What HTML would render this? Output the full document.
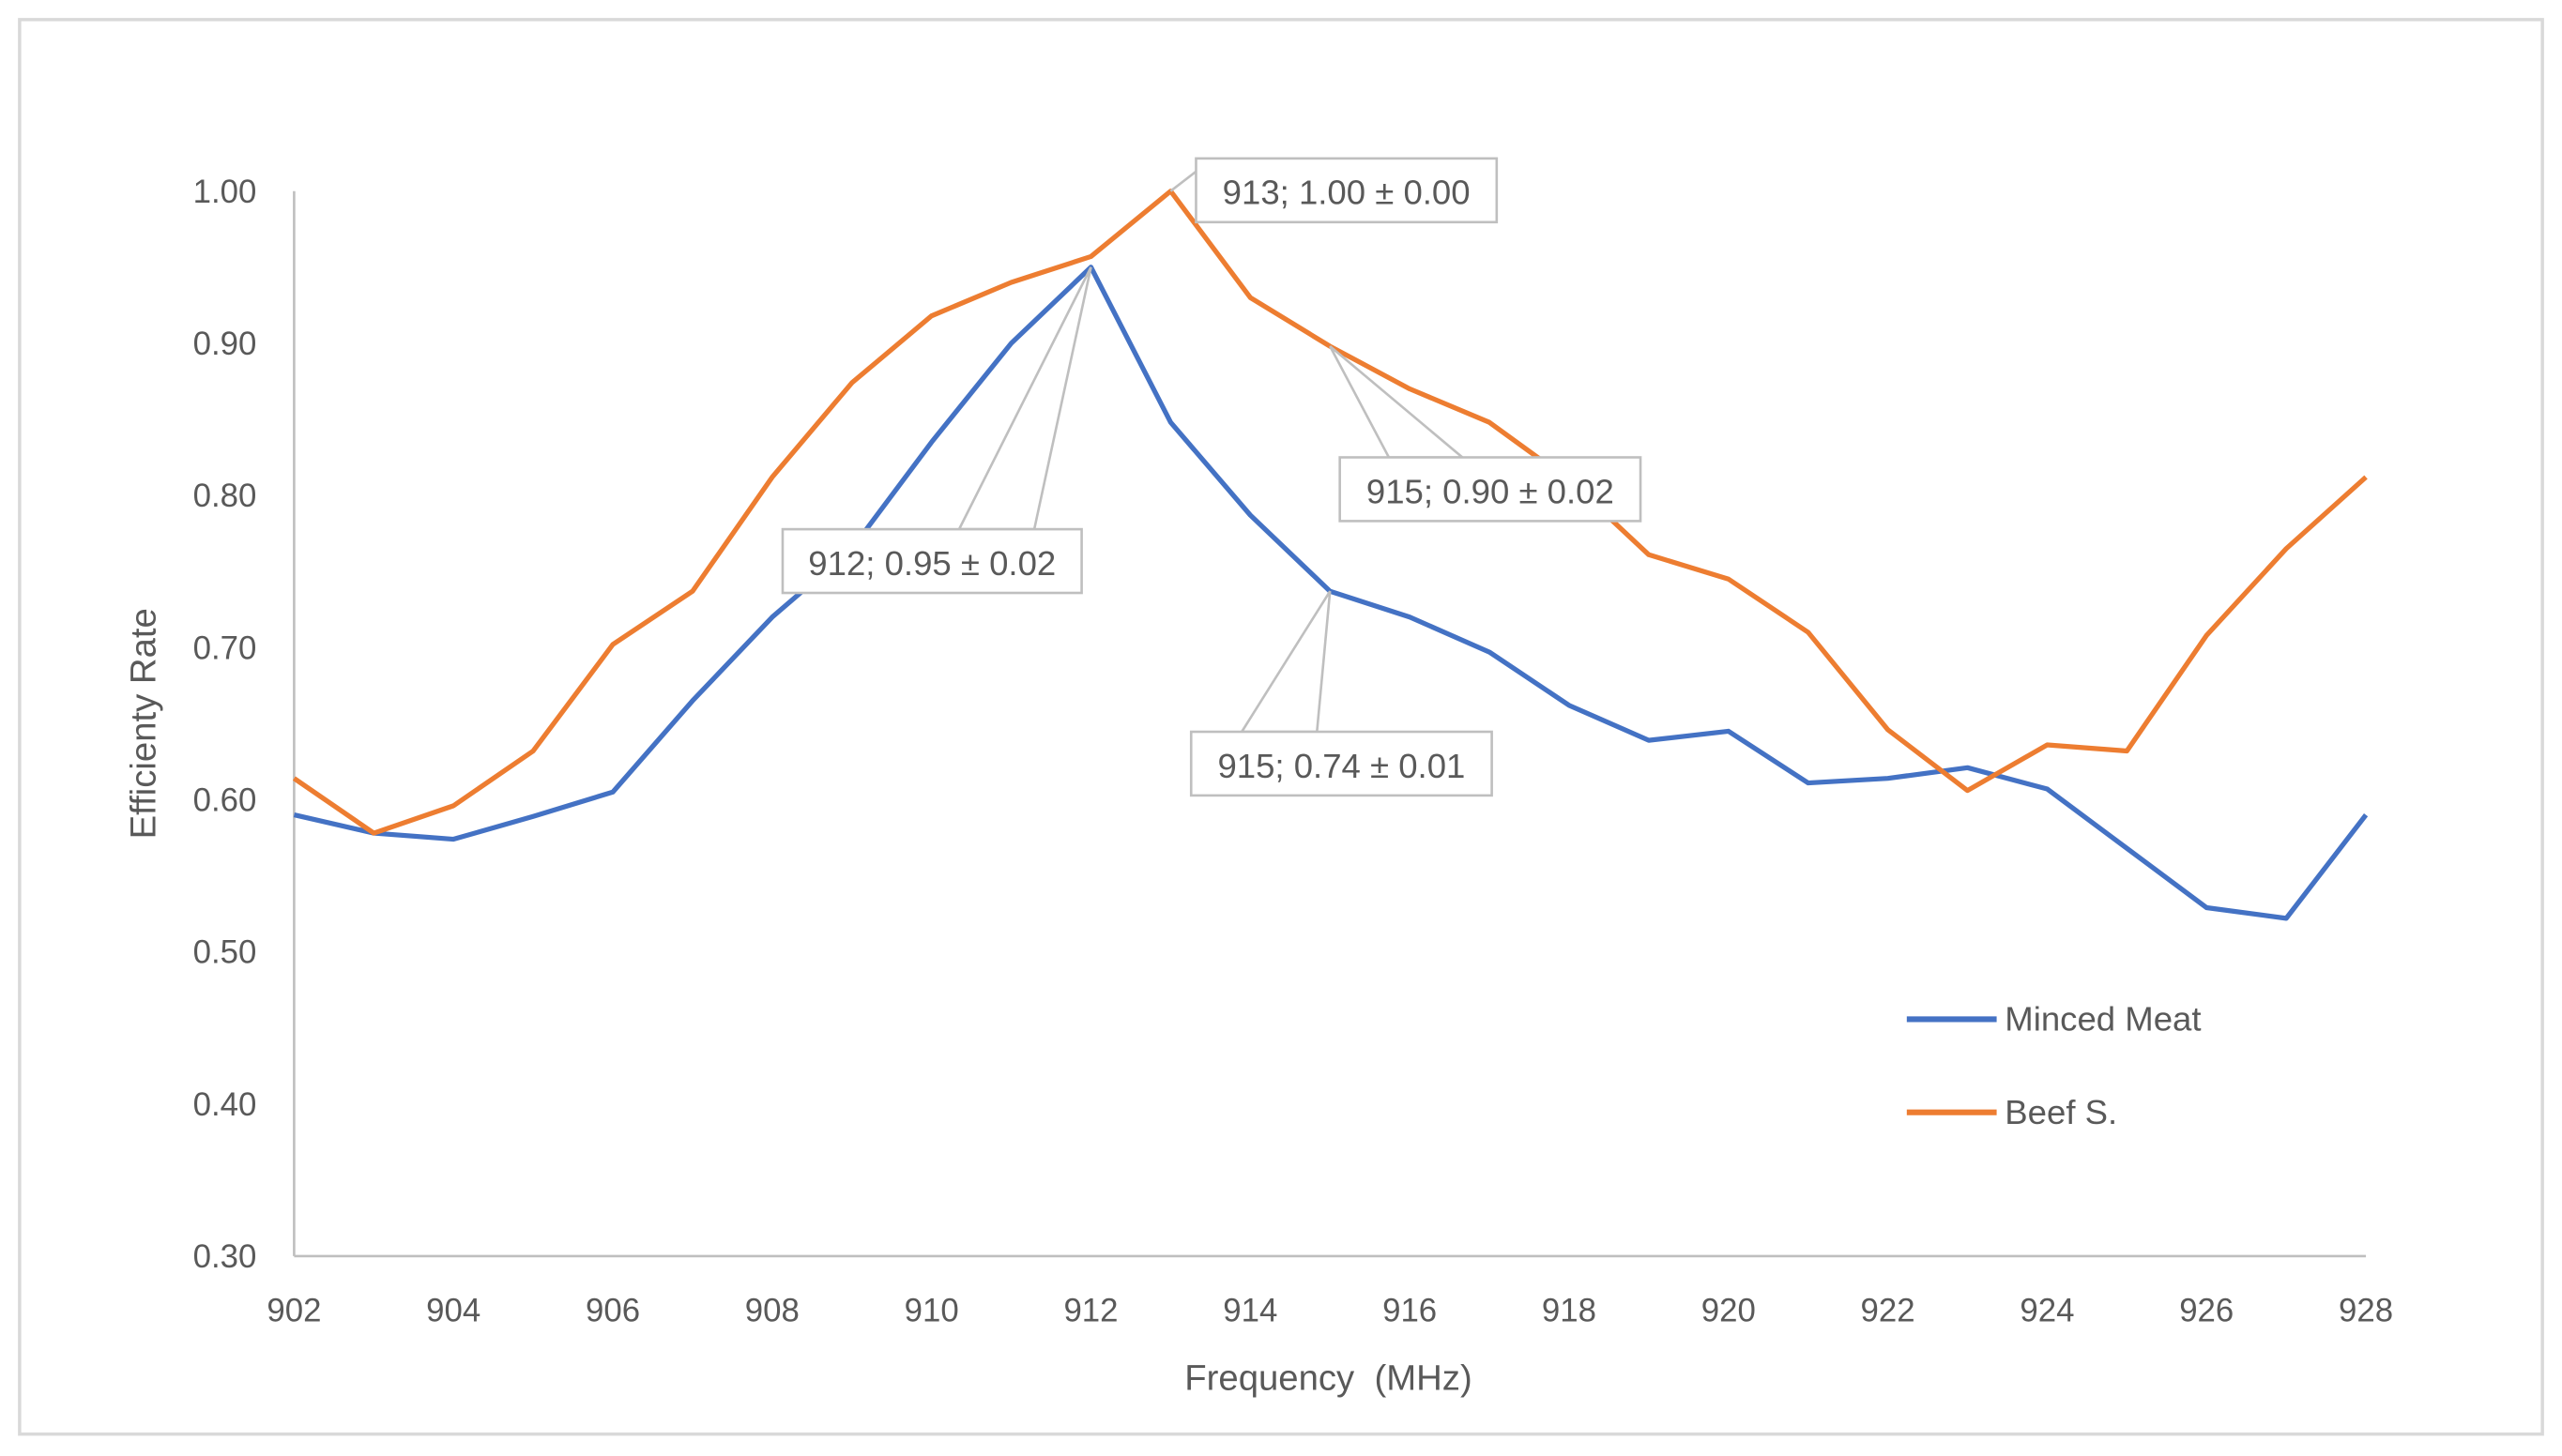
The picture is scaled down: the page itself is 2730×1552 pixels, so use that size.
<!DOCTYPE html>
<html><head><meta charset="utf-8"><style>
html,body{margin:0;padding:0;background:#fff;}
svg{display:block;font-family:"Liberation Sans",sans-serif;}
</style></head><body>
<svg id="chart" width="2730" height="1552" viewBox="0 0 1568 891.4" preserveAspectRatio="none" xmlns="http://www.w3.org/2000/svg">
<rect x="12" y="12" width="1544" height="866" fill="#fff" stroke="#d9d9d9" stroke-width="2"/>
<g id="axes"></g>
<g id="series"></g>
<g id="annots"></g>
<text x="813" y="851" font-size="22" fill="#595959" text-anchor="middle">Frequency &#160;(MHz)</text>
<text transform="translate(95,443) rotate(-90)" font-size="22" fill="#595959" text-anchor="middle">Efficienty Rate</text>
<g>
<line x1="1167" y1="624" x2="1222" y2="624" stroke="#4472c4" stroke-width="3.5"/>
<text x="1227" y="631" font-size="21" fill="#595959">Minced Meat</text>
<line x1="1167" y1="681" x2="1222" y2="681" stroke="#ed7d31" stroke-width="3.5"/>
<text x="1227" y="688" font-size="21" fill="#595959">Beef S.</text>
</g>
</svg>
<script>
const freqs=[902,903,904,905,906,907,908,909,910,911,912,913,914,915,916,917,918,919,920,921,922,923,924,925,926,927,928];
const mincedMeat=[0.59,0.578,0.574,0.589,0.605,0.665,0.72,0.765,0.835,0.90,0.95,0.848,0.787,0.737,0.72,0.697,0.662,0.639,0.645,0.611,0.614,0.621,0.607,0.568,0.529,0.522,0.59];
const beefS=[0.614,0.578,0.596,0.632,0.702,0.737,0.812,0.874,0.918,0.94,0.957,1.0,0.93,0.898,0.87,0.848,0.81,0.761,0.745,0.71,0.646,0.606,0.636,0.632,0.708,0.765,0.812];
const yTicks=[0.30,0.40,0.50,0.60,0.70,0.80,0.90,1.00];
const xTicks=[902,904,906,908,910,912,914,916,918,920,922,924,926,928];
const NS="http://www.w3.org/2000/svg";
const X0=180,X1=1448,Y0=769,Y1=117;
function xs(v){return X0+(v-902)/(928-902)*(X1-X0);}
function ys(v){return Y0-(v-0.3)/(1.0-0.3)*(Y0-Y1);}
function mk(tag,attrs,parent){const e=document.createElementNS(NS,tag);for(const k in attrs)e.setAttribute(k,attrs[k]);parent.appendChild(e);return e;}
const axes=document.getElementById('axes');
let a=mk('line',{x1:X0,y1:Y1,x2:X0,y2:Y0,stroke:'#bfbfbf','stroke-width':1.5},axes);


a=mk('line',{x1:X0,y1:Y0,x2:X1,y2:Y0,stroke:'#bfbfbf','stroke-width':1.5},axes);


yTicks.forEach(t=>{const e=mk('text',{x:157,y:ys(t)+7,'font-size':20,fill:'#595959','text-anchor':'end'},axes);e.textContent=t.toFixed(2);

});
xTicks.forEach(t=>{const e=mk('text',{x:xs(t),y:809,'font-size':20,fill:'#595959','text-anchor':'middle'},axes);e.textContent=t;

});
const ser=document.getElementById('series');
function line(vals,color,name){const p=mk('polyline',{points:vals.map((v,i)=>xs(freqs[i])+','+ys(v)).join(' '),fill:'none',stroke:color,'stroke-width':3,'stroke-linejoin':'round'},ser);

}
line(mincedMeat,'#4472c4','minced-meat-line');
line(beefS,'#ed7d31','beef-s-line');
const an=document.getElementById('annots');
function annot(text,vals,i,bx,by,bw,lx1,lx2,name){
 const px=xs(freqs[i]),py=ys(vals[i]);
 const ly=(by>py)?by:by+8;
 let l=mk('polygon',{points:px+','+py+' '+lx1+','+ly+' '+lx2+','+ly,fill:'none',stroke:'#bfbfbf','stroke-width':1.5},an);
 
 
 let r=mk('rect',{x:bx,y:by,width:bw,height:39,fill:'#fff',stroke:'#bfbfbf','stroke-width':1.5},an);
 
 
 let t=mk('text',{x:bx+bw/2,y:by+28,'font-size':21,fill:'#595959','text-anchor':'middle'},an);t.textContent=text;
 
 
}
annot('913; 1.00 ± 0.00',beefS,11,732,97,184,732,732,'annotation-913');
annot('915; 0.90 ± 0.02',beefS,13,820,280,184,850,895,'annotation-915-beef');
annot('912; 0.95 ± 0.02',mincedMeat,10,479,324,183,587,633,'annotation-912');
annot('915; 0.74 ± 0.01',mincedMeat,13,729,448,184,760,806,'annotation-915-minced');
</script>
</body></html>
